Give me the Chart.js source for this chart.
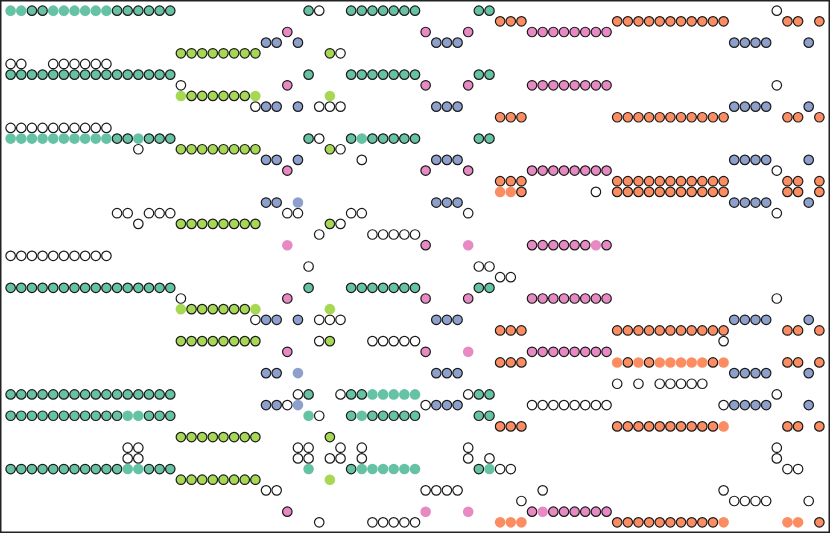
<!DOCTYPE html>
<html>
<head>
<meta charset="utf-8">
<script src="https://cdn.jsdelivr.net/npm/chart.js@4"></script>
<style>
  body { margin: 0; background: #fff; }
  #wrap { width: 830px; height: 533px; }
</style>
</head>
<body>
<div id="wrap"><canvas id="dots" width="830" height="533"></canvas></div>
<script>
// grid size (columns / rows of the dot matrix)
const colCount = 77;
const rowCount = 49;

// each entry: [row, [columns...]]
const tealEdge = [
  [0, [2, 3, 10, 11, 12, 13, 14, 15, 28, 32, 33, 34, 35, 36, 37, 38, 44, 45]],
  [6, [0, 1, 2, 3, 4, 5, 6, 7, 8, 9, 10, 11, 12, 13, 14, 15, 28, 32, 33, 34, 35, 36, 37, 38, 44, 45]],
  [12, [10, 11, 13, 14, 15, 28, 32, 34, 35, 36, 37, 38, 44, 45]],
  [26, [0, 1, 2, 3, 4, 5, 6, 7, 8, 9, 10, 11, 12, 13, 14, 15, 28, 32, 33, 34, 35, 36, 37, 38, 44, 45]],
  [36, [0, 1, 2, 3, 4, 5, 6, 7, 8, 9, 10, 11, 12, 13, 14, 15, 28, 32, 33, 44, 45]],
  [38, [0, 1, 2, 3, 4, 5, 6, 7, 8, 9, 10, 13, 14, 15, 32, 34, 35, 36, 37, 38, 44, 45]],
  [43, [0, 1, 2, 3, 4, 5, 6, 7, 8, 9, 10, 13, 14, 15, 32, 44]]
];
const tealPlain = [
  [0, [0, 1, 4, 5, 6, 7, 8, 9]],
  [12, [0, 1, 2, 3, 4, 5, 6, 7, 8, 9, 12, 33]],
  [36, [34, 35, 36, 37, 38]],
  [38, [11, 12, 28, 33]],
  [43, [11, 12, 28, 33, 34, 35, 36, 37, 38, 45]]
];

const orangeEdge = [
  [1, [46, 47, 48, 57, 58, 59, 60, 61, 62, 63, 64, 65, 66, 67, 73, 74, 76]],
  [10, [46, 47, 48, 57, 58, 59, 60, 61, 62, 63, 64, 65, 66, 67, 73, 74, 76]],
  [16, [46, 47, 48, 57, 58, 59, 60, 61, 62, 63, 64, 65, 66, 67, 73, 74, 76]],
  [17, [48, 57, 58, 59, 60, 61, 62, 63, 64, 65, 66, 67, 73, 74, 76]],
  [30, [46, 47, 48, 57, 58, 59, 60, 61, 62, 63, 64, 65, 66, 67, 73, 74, 76]],
  [33, [46, 47, 48, 58, 60, 66, 73, 74, 76]],
  [39, [46, 47, 48, 57, 58, 59, 60, 61, 62, 63, 64, 65, 66, 73, 74, 76]],
  [48, [57, 58, 59, 60, 61, 62, 63, 64, 65, 66, 76]]
];
const orangePlain = [
  [17, [46, 47]],
  [33, [57, 59, 61, 62, 63, 64, 65, 67]],
  [39, [67]],
  [48, [46, 47, 48, 67, 73, 74]]
];

const blueEdge = [
  [3, [24, 25, 27, 40, 41, 42, 68, 69, 70, 71, 75]],
  [9, [24, 25, 27, 40, 41, 42, 68, 69, 70, 71, 75]],
  [14, [24, 25, 27, 40, 41, 42, 68, 69, 70, 71, 75]],
  [18, [24, 25, 40, 41, 42, 68, 69, 70, 71, 75]],
  [29, [24, 25, 27, 40, 41, 42, 68, 69, 70, 71, 75]],
  [34, [24, 25, 40, 41, 42, 68, 69, 70, 71, 75]],
  [37, [24, 25, 40, 41, 42, 68, 69, 70, 71, 75]]
];
const bluePlain = [
  [18, [27]],
  [34, [27]],
  [37, [27]]
];

const pinkEdge = [
  [2, [26, 39, 43, 49, 50, 51, 52, 53, 54, 55, 56]],
  [7, [26, 39, 43, 49, 50, 51, 52, 53, 54, 55, 56]],
  [15, [26, 39, 43, 49, 50, 51, 52, 53, 54, 55, 56]],
  [22, [39, 49, 50, 51, 52, 53, 54, 56]],
  [27, [26, 39, 43, 49, 50, 51, 52, 53, 54, 55, 56]],
  [32, [26, 39, 49, 50, 51, 52, 53, 54, 55, 56]],
  [47, [26, 49, 51, 52, 53, 54, 55, 56]]
];
const pinkPlain = [
  [22, [26, 43, 55]],
  [32, [43]],
  [47, [39, 43, 50]]
];

const greenEdge = [
  [4, [16, 17, 18, 19, 20, 21, 22, 23, 30]],
  [8, [17, 18, 19, 20, 21, 22]],
  [13, [16, 17, 18, 19, 20, 21, 22, 23, 30]],
  [20, [16, 17, 18, 19, 20, 21, 22, 23, 30]],
  [28, [17, 18, 19, 20, 21, 22]],
  [31, [16, 17, 18, 19, 20, 21, 22, 23, 30]],
  [40, [16, 17, 18, 19, 20, 21, 22, 23, 30]],
  [44, [16, 17, 18, 19, 20, 21, 22, 23]]
];
const greenPlain = [
  [8, [16, 23, 30]],
  [28, [16, 23, 30]],
  [44, [30]]
];

const whiteDots = [
  [0, [29, 72]],
  [4, [31]],
  [5, [0, 1, 4, 5, 6, 7, 8, 9]],
  [7, [16, 72]],
  [9, [23, 29, 30, 31]],
  [11, [0, 1, 2, 3, 4, 5, 6, 7, 8, 9]],
  [12, [29]],
  [13, [12, 31]],
  [14, [33]],
  [15, [72]],
  [17, [55]],
  [19, [10, 11, 13, 14, 15, 26, 27, 32, 33, 43, 72]],
  [20, [12, 31]],
  [21, [29, 34, 35, 36, 37, 38]],
  [23, [0, 1, 2, 3, 4, 5, 6, 7, 8, 9]],
  [24, [28, 44, 45]],
  [25, [46, 47]],
  [27, [16, 72]],
  [29, [23, 29, 30, 31]],
  [31, [29, 34, 35, 36, 37, 38, 67]],
  [35, [57, 59, 61, 62, 63, 64, 65]],
  [36, [27, 31, 43, 72]],
  [37, [26, 39, 49, 50, 51, 52, 53, 54, 55, 56, 67]],
  [38, [29]],
  [41, [11, 12, 27, 28, 31, 33, 43, 72]],
  [42, [11, 12, 27, 28, 30, 31, 33, 43, 45, 72]],
  [43, [46, 47, 73, 74]],
  [45, [24, 25, 39, 40, 41, 42, 50, 67]],
  [46, [48, 68, 69, 70, 71, 75]],
  [48, [29, 34, 35, 36, 37, 38]]
];

function toPoints(rows) {
  const pts = [];
  rows.forEach(([row, cols]) => {
    cols.forEach(col => pts.push({ x: col, y: row }));
  });
  return pts;
}

function plainSet(rows, color) {
  return {
    data: toPoints(rows),
    backgroundColor: color,
    borderWidth: 0,
    pointRadius: 5.3,
    pointHoverRadius: 5.3
  };
}

function edgeSet(rows, color) {
  return {
    data: toPoints(rows),
    backgroundColor: color,
    borderColor: '#1a1a1a',
    borderWidth: 1.2,
    pointRadius: 4.75,
    pointHoverRadius: 4.75
  };
}

// thin frame around the plot area
const framePlugin = {
  id: 'frame',
  afterDraw(chart) {
    const { ctx, chartArea: a } = chart;
    ctx.save();
    ctx.strokeStyle = '#222';
    ctx.lineWidth = 1.5;
    ctx.strokeRect(a.left + 0.75, a.top + 0.75, a.right - a.left - 1.5, a.bottom - a.top - 1.5);
    ctx.restore();
  }
};

new Chart(document.getElementById('dots').getContext('2d'), {
  type: 'scatter',
  data: {
    datasets: [
      plainSet(tealPlain, '#66c2a5'),
      plainSet(orangePlain, '#fc8d62'),
      plainSet(bluePlain, '#8da0cb'),
      plainSet(pinkPlain, '#e78ac3'),
      plainSet(greenPlain, '#a6d854'),
      edgeSet(tealEdge, '#66c2a5'),
      edgeSet(orangeEdge, '#fc8d62'),
      edgeSet(blueEdge, '#8da0cb'),
      edgeSet(pinkEdge, '#e78ac3'),
      edgeSet(greenEdge, '#a6d854'),
      edgeSet(whiteDots, '#ffffff')
    ]
  },
  options: {
    responsive: false,
    animation: false,
    layout: { padding: 0, autoPadding: false },
    plugins: {
      legend: { display: false },
      tooltip: { enabled: false }
    },
    scales: {
      x: { type: 'linear', min: -1, max: colCount, display: false },
      y: { type: 'linear', min: -1, max: rowCount, reverse: true, display: false }
    }
  },
  plugins: [framePlugin]
});
</script>
</body>
</html>
